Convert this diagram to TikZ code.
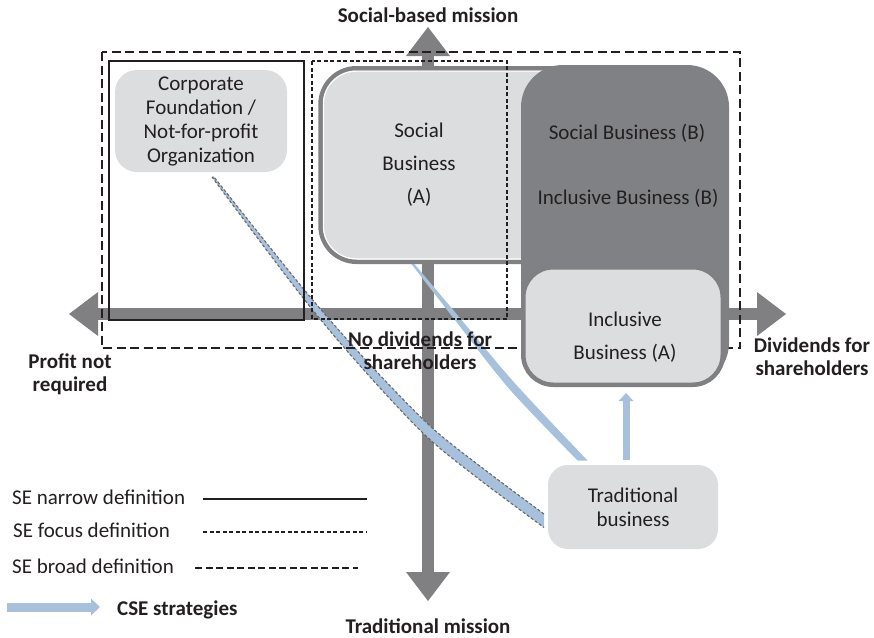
\documentclass[tikz,border=0pt]{standalone}
\usepackage{fontspec}
\setmainfont{Carlito}
\usetikzlibrary{arrows.meta,calc}
\definecolor{axisgray}{RGB}{128,128,131}
\definecolor{boxlight}{RGB}{220,221,223}
\definecolor{boxdark}{RGB}{128,129,133}
\definecolor{cseblue}{RGB}{167,193,220}
\definecolor{ink}{RGB}{35,31,32}
\definecolor{edgegray}{RGB}{105,105,108}

\begin{document}
\begin{tikzpicture}[x=1pt,y=-1pt,
  body/.style={font=\fontsize{21}{24}\selectfont, text=ink, inner sep=0pt, align=center},
  tallbody/.style={body, font=\fontsize{21}{33}\selectfont},
  heading/.style={font=\fontsize{21}{23}\selectfont\bfseries, text=ink, inner sep=0pt, align=center},
  axisline/.style={draw=axisgray, line width=12pt,
    arrows={Triangle[length=29pt,width=44pt,line width=0pt]-Triangle[length=29pt,width=44pt,line width=0pt]}},
  narrowline/.style={draw=ink, line width=1.3pt},
  focusline/.style={draw=ink, line width=1.3pt, dash pattern=on 4pt off 2.5pt},
  broadline/.style={draw=ink, line width=1.3pt, dash pattern=on 9pt off 4.5pt},
  broadsample/.style={draw=ink, line width=1.3pt, dash pattern=on 7pt off 3.5pt},
  lightbox/.style={fill=boxlight, rounded corners=#1, inner sep=0pt},
  framedbox/.style={fill=boxlight, draw=axisgray, line width=4.5pt, rounded corners=#1, inner sep=0pt},
  csearrow/.style={draw=cseblue, line width=7pt,
    arrows={-Triangle[length=8pt,width=15pt,line width=0pt]}},
  wedgefill/.style={fill=cseblue},
  wedgeedge/.style={draw=edgegray, line width=1.1pt, dash pattern=on 3pt off 2pt},
]
\useasboundingbox (0,0) rectangle (874,637);

% axes
\coordinate (xl) at (69,314);
\coordinate (xr) at (786,314);
\coordinate (yt) at (428,27);
\coordinate (yb) at (428,601);
\draw[axisline] (xl) -- (xr);
\draw[axisline] (yt) -- (yb);

% CSE strategy paths (tapered bands)
\fill[wedgefill] plot[smooth, tension=0.5] coordinates {(544,514) (483.4,468.7) (430.4,426.3) (366.0,360.3) (305.3,291.1) (213.6,176.5)}
  -- plot[smooth, tension=0.5] coordinates {(212.4,177.5) (300.7,294.9) (360.0,365.7) (423.6,433.7) (476.6,477.3) (544,527.5)} -- cycle;
\draw[wedgeedge] plot[smooth, tension=0.5] coordinates {(544,514) (483.4,468.7) (430.4,426.3) (366.0,360.3) (305.3,291.1) (213.6,176.5)}
  -- plot[smooth, tension=0.5] coordinates {(212.4,177.5) (300.7,294.9) (360.0,365.7) (423.6,433.7) (476.6,477.3) (544,527.5)};
\fill[wedgefill] plot[smooth, tension=0.5] coordinates {(587.5,460.5) (515.0,383.4) (456.9,314.4) (408.8,257.4)}
  -- plot[smooth, tension=0.5] coordinates {(407.2,258.6) (453.1,317.6) (509.0,388.6) (577.5,460.5)} -- cycle;

% broad definition frame
\draw[broadline] (102,52) rectangle (740,348);

% boxes
\node[lightbox=22pt, minimum width=172pt, minimum height=102pt, body] (corp) at (201,121)
  {Corporate\\Foundation /\\Not-for-profit\\Organization};
\node[framedbox=36pt, minimum width=277pt, minimum height=193.5pt] (socA) at (459,165) {};
\draw[white, line width=1.2pt, rounded corners=33pt] (323.4,71.1) rectangle (594.6,258.9);
\node[fill=boxdark, rounded corners=42pt, inner sep=0pt, minimum width=208pt, minimum height=320pt] (dark) at (625,225) {};
\node[framedbox=30pt, minimum width=199.5pt, minimum height=117.5pt] (incA) at (623,326) {};
\node[lightbox=20pt, minimum width=170pt, minimum height=84pt, body] (trad) at (633,507)
  {Traditional\\business};

% narrow and focus definition frames
\draw[narrowline] (109,61) rectangle (304,320);
\draw[focusline] (312,61) rectangle (507,319);

% traditional business -> inclusive business
\draw[csearrow] ($(trad.north)+(-7,-5)$) -- ($(incA.south)+(3,6)$);

% box texts
\node[tallbody] (socAtext) at (419,165) {Social\\Business\\(A)};
\node[body, anchor=base] (sbB) at (627,139) {Social Business (B)};
\node[body, anchor=base] (ibB) at (628,204) {Inclusive Business (B)};
\node[tallbody] (incAtext) at (625,337) {Inclusive\\Business (A)};

% axis labels
\node[heading, anchor=base] (north) at (428,22) {Social-based mission};
\node[heading, anchor=base] (south) at (428,633) {Traditional mission};
\node[heading] (west) at (70,374) {Profit not\\required};
\node[heading] (mid) at (420,351) {No dividends for\\shareholders};
\node[heading] (east) at (812,357) {Dividends for\\shareholders};

% legend
\node[body, anchor=base west] (lg1) at (12,504) {SE narrow definition};
\node[body, anchor=base west] (lg2) at (13,537) {SE focus definition};
\node[body, anchor=base west] (lg3) at (12,573) {SE broad definition};
\node[heading, anchor=base west] (lg4) at (117,615) {CSE strategies};
\draw[narrowline] (203,499) -- (367,499);
\draw[focusline] (203,532) -- (367,532);
\draw[broadsample] (195,568) -- (358,568);
\coordinate (lgs) at (7,607);
\coordinate (lge) at (100,607);
\draw[csearrow, line width=9pt, arrows={-Triangle[length=9pt,width=17pt,line width=0pt]}] (lgs) -- (lge);
\end{tikzpicture}
\end{document}
